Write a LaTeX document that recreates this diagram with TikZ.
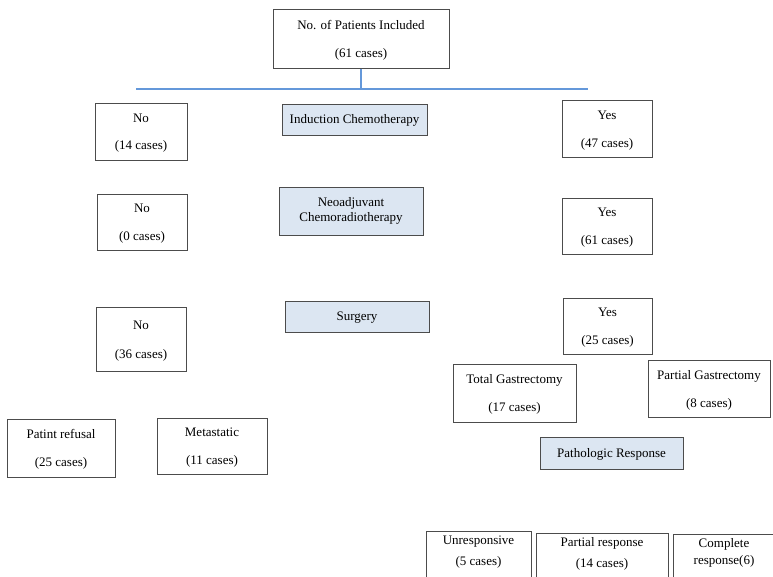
\documentclass[tikz,border=0pt]{standalone}
\usepackage{fontspec}
\setmainfont{Liberation Serif}
\usetikzlibrary{positioning}
\definecolor{stagefill}{RGB}{220,230,242}
\definecolor{linkblue}{RGB}{100,152,218}

\begin{document}
\begin{tikzpicture}[x=1pt,y=-1pt,
	box/.style={draw=black!70, line width=1pt, fill=white, align=center, inner sep=0pt, font=\fontsize{13}{15.5}\selectfont},
	stage/.style={box, fill=stagefill},
	resp/.style={box, anchor=north},
	link/.style={draw=linkblue, line width=1.2pt}]
	\clip (0,0) rectangle (773,576);
	% root and the three stages
	\node [box, minimum width=176pt, minimum height=59pt] (top) at (361,38.5) {\rule{0pt}{12pt}No. of Patients Included\\[12.5pt](61 cases)};
	\node [stage, minimum width=145pt, minimum height=31pt] (induction) at (354.5,119.5) {\rule{0pt}{11pt}Induction Chemotherapy};
	\node [stage, minimum width=144pt, minimum height=48pt] (neoadj) at (351,211) {Neoadjuvant\\Chemoradiotherapy};
	\node [stage, minimum width=144pt, minimum height=31pt] (surgery) at (357,316.5) {\rule{0pt}{11pt}Surgery};
	\node [stage, minimum width=143pt, minimum height=32pt] (patho) at (611.5,453) {\rule{0pt}{11pt}Pathologic Response};
	% left column
	\node [box, minimum width=92pt, minimum height=57pt] (noInd) at (141,131.5) {\rule{0pt}{12pt}No\\[12pt](14 cases)};
	\node [box, minimum width=90pt, minimum height=56pt] (noNeo) at (142,222) {\rule{0pt}{12pt}No\\[12.5pt](0 cases)};
	\node [box, minimum width=90pt, minimum height=64pt] (noSurg) at (141,339) {\rule{0pt}{12pt}No\\[13.5pt](36 cases)};
	\node [box, minimum width=108pt, minimum height=58pt] (refusal) at (61,448) {\rule{0pt}{12pt}Patint refusal\\[12.5pt](25 cases)};
	\node [box, minimum width=110pt, minimum height=56pt] (metast) at (212,446) {\rule{0pt}{12pt}Metastatic\\[12.5pt](11 cases)};
	% right column
	\node [box, minimum width=90pt, minimum height=57pt] (yesInd) at (607,128.5) {\rule{0pt}{12pt}Yes\\[12.5pt](47 cases)};
	\node [box, minimum width=90pt, minimum height=56pt] (yesNeo) at (607,226) {\rule{0pt}{12pt}Yes\\[12.5pt](61 cases)};
	\node [box, minimum width=89pt, minimum height=56pt] (yesSurg) at (607.5,326) {\rule{0pt}{12pt}Yes\\[12.5pt](25 cases)};
	\node [box, minimum width=123pt, minimum height=58pt] (totalG) at (514.5,393) {\rule{0pt}{12pt}Total Gastrectomy\\[12.5pt](17 cases)};
	\node [box, minimum width=122pt, minimum height=57pt] (partialG) at (709,388.5) {\rule{0pt}{12pt}Partial Gastrectomy\\[12.5pt](8 cases)};
	% responses
	\node [resp, minimum width=105pt] (unresp) at (478.5,531) {\rule{0pt}{13pt}Unresponsive\\[5.5pt](5 cases)\\[14pt]\mbox{}};
	\node [resp, minimum width=132pt] (partResp) at (602,533) {\rule{0pt}{13pt}Partial response\\[5.5pt](14 cases)\\[14pt]\mbox{}};
	\node [resp, minimum width=102pt] (complResp) at (724,534) {\rule{0pt}{13pt}Complete\\[1.5pt]response(6)\\[18pt]\mbox{}};
	% connector
	\coordinate (hl) at (136,89);
	\coordinate (hr) at (588,89);
	\draw [link] (top.south) -- (top.south |- hl);
	\draw [link] (hl) -- (hr);
\end{tikzpicture}
\end{document}
